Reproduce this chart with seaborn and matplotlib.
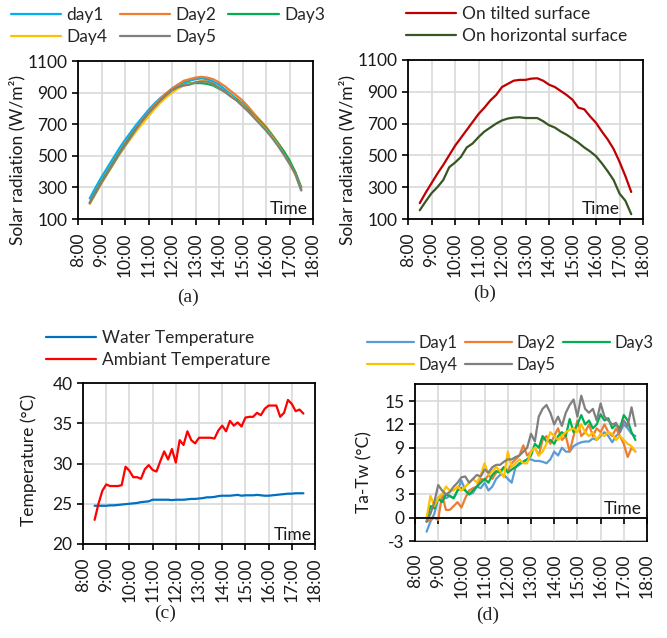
import matplotlib
matplotlib.use("Agg")
import matplotlib.pyplot as plt
import seaborn as sns
import pandas as pd
import numpy as np

sns.set_theme(style="whitegrid")
plt.rcParams["font.family"] = ["Lato", "DejaVu Sans"]

# ---- data -------------------------------------------------------------
# (a), (b): 15 minute readings, 8:30 .. 17:30
time_15 = ["8:30", "8:45", "9:00", "9:15", "9:30", "9:45", "10:00", "10:15", "10:30",
           "10:45", "11:00", "11:15", "11:30", "11:45", "12:00", "12:15", "12:30",
           "12:45", "13:00", "13:15", "13:30", "13:45", "14:00", "14:15", "14:30",
           "14:45", "15:00", "15:15", "15:30", "15:45", "16:00", "16:15", "16:30",
           "16:45", "17:00", "17:15", "17:30"]

rad_day1 = [230, 300, 365, 425, 485, 545, 600, 650, 700, 745, 790, 830, 865, 895, 925, 950,
            965, 975, 985, 990, 985, 970, 950, 920, 890, 860, 830, 790, 750, 715, 675, 630,
            580, 525, 460, 385, 285]
rad_day2 = [205, 275, 340, 400, 460, 520, 580, 630, 680, 730, 775, 820, 860, 895, 925, 950,
            975, 985, 995, 1000, 995, 985, 965, 940, 910, 880, 850, 810, 765, 725, 685, 635,
            585, 530, 470, 395, 295]
rad_day3 = [200, 270, 335, 395, 455, 515, 570, 625, 675, 720, 765, 805, 845, 880, 910, 935,
            950, 960, 960, 960, 955, 945, 925, 905, 880, 855, 825, 790, 750, 715, 675, 630,
            580, 530, 470, 395, 300]
rad_day4 = [195, 260, 325, 385, 445, 505, 560, 610, 660, 705, 750, 795, 835, 870, 900, 925,
            945, 955, 965, 975, 970, 955, 930, 905, 880, 850, 820, 780, 745, 705, 665, 620,
            570, 510, 450, 380, 285]
rad_day5 = [200, 265, 330, 390, 450, 510, 565, 620, 675, 725, 770, 810, 850, 885, 915, 935,
            945, 950, 965, 970, 970, 955, 930, 905, 875, 850, 815, 780, 740, 700, 660, 615,
            565, 510, 450, 385, 280]

rad_tilted = [200, 265, 325, 385, 440, 500, 560, 610, 660, 710, 760, 800, 845, 880, 930, 950,
              970, 975, 975, 983, 985, 970, 945, 930, 905, 880, 850, 800, 790, 745, 705, 650,
              600, 540, 460, 370, 270]
rad_horizontal = [155, 210, 262, 300, 345, 425, 455, 490, 550, 575, 615, 650, 675, 700, 720,
                  732, 738, 740, 735, 735, 735, 715, 690, 675, 650, 630, 605, 580, 550, 525,
                  495, 450, 400, 345, 260, 215, 130]

# (c), (d): 10 minute readings, 8:30 .. 17:30
time_10 = ["8:30", "8:40", "8:50", "9:00", "9:10", "9:20", "9:30", "9:40", "9:50", "10:00",
           "10:10", "10:20", "10:30", "10:40", "10:50", "11:00", "11:10", "11:20", "11:30",
           "11:40", "11:50", "12:00", "12:10", "12:20", "12:30", "12:40", "12:50", "13:00",
           "13:10", "13:20", "13:30", "13:40", "13:50", "14:00", "14:10", "14:20", "14:30",
           "14:40", "14:50", "15:00", "15:10", "15:20", "15:30", "15:40", "15:50", "16:00",
           "16:10", "16:20", "16:30", "16:40", "16:50", "17:00", "17:10", "17:20", "17:30"]

water_temp = [24.75, 24.75, 24.75, 24.75, 24.8, 24.8, 24.85, 24.9, 24.95, 25.0, 25.05, 25.1,
              25.2, 25.25, 25.3, 25.5, 25.5, 25.5, 25.5, 25.5, 25.45, 25.5, 25.5, 25.5, 25.55,
              25.6, 25.6, 25.65, 25.7, 25.8, 25.8, 25.85, 25.95, 26.0, 26.0, 26.0, 26.05, 26.1,
              26.0, 26.05, 26.05, 26.05, 26.1, 26.05, 26.0, 26.0, 26.05, 26.1, 26.15, 26.2,
              26.25, 26.25, 26.3, 26.3, 26.3]
ambient_temp = [23.0, 25.0, 26.6, 27.4, 27.2, 27.2, 27.2, 27.3, 29.6, 29.1, 28.3, 28.3, 28.1,
                29.3, 29.8, 29.2, 29.0, 30.3, 31.5, 30.5, 31.8, 30.1, 32.9, 32.3, 34.0, 32.9,
                32.5, 33.2, 33.2, 33.2, 33.2, 33.1, 34.1, 34.7, 34.0, 35.3, 34.7, 35.1, 34.6,
                35.7, 35.8, 35.8, 36.3, 36.0, 36.8, 37.2, 37.2, 37.2, 35.8, 36.3, 37.9, 37.4,
                36.5, 36.7, 36.2]

dt_day1 = [-1.8, -0.5, 0.5, 2.5, 3.0, 2.5, 2.8, 2.5, 3.5, 4.8, 3.5, 3.0, 3.2, 4.0, 3.8, 4.5,
           3.5, 4.0, 5.0, 5.5, 5.5, 5.0, 4.5, 6.5, 6.8, 7.2, 7.5, 7.5, 7.3, 7.3, 7.2, 7.0, 7.5,
           8.5, 8.0, 9.0, 8.5, 8.5, 9.2, 9.5, 9.7, 9.8, 9.8, 10.2, 10.0, 10.5, 11.0, 10.5, 9.7,
           10.5, 11.0, 12.0, 11.5, 10.8, 10.5]
dt_day2 = [-0.5, -0.3, 0.0, -0.3, 3.0, 1.0, 1.0, 1.5, 2.0, 1.3, 2.5, 3.5, 3.8, 4.0, 5.0, 4.8,
           5.5, 5.0, 5.8, 6.0, 6.5, 6.0, 7.0, 7.5, 8.0, 9.3, 8.0, 8.5, 9.0, 8.0, 10.0, 10.5,
           9.5, 10.5, 11.5, 10.0, 10.5, 8.5, 10.5, 12.5, 10.5, 11.0, 12.0, 10.5, 11.5, 11.0,
           12.0, 11.0, 10.5, 11.5, 10.5, 9.5, 7.8, 9.0, 8.5]
dt_day3 = [-0.5, 1.5, 1.2, 2.5, 2.0, 3.0, 2.8, 2.5, 3.5, 3.8, 3.5, 3.0, 3.5, 4.0, 4.5, 5.0,
           4.5, 5.5, 6.0, 5.8, 6.5, 5.8, 6.2, 6.5, 7.0, 7.2, 7.5, 8.0, 9.5, 9.0, 10.5, 9.8,
           10.0, 9.5, 10.5, 11.0, 10.5, 12.7, 11.0, 12.0, 13.2, 12.0, 12.5, 11.5, 12.0, 13.3,
           12.5, 12.8, 11.5, 12.0, 11.5, 13.2, 12.5, 11.0, 10.0]
dt_day4 = [0.0, 2.8, 1.5, 2.5, 3.0, 4.0, 3.5, 3.5, 4.0, 3.5, 4.0, 4.5, 5.0, 4.5, 5.5, 7.0,
           5.5, 6.0, 6.5, 6.0, 5.2, 8.5, 6.5, 7.0, 7.5, 7.0, 7.0, 8.5, 9.0, 8.0, 8.5, 9.5,
           11.0, 10.5, 10.0, 10.5, 11.0, 11.3, 11.5, 11.0, 12.0, 11.0, 10.5, 11.0, 10.0, 10.8,
           10.5, 11.0, 10.8, 10.0, 10.5, 10.0, 9.5, 9.2, 8.5]
dt_day5 = [-0.5, 0.5, 2.0, 4.2, 3.5, 3.0, 3.3, 4.0, 4.5, 5.2, 5.3, 4.5, 5.0, 5.5, 5.3, 6.2,
           5.8, 6.5, 6.8, 6.8, 7.2, 7.5, 7.5, 7.8, 8.0, 8.5, 9.0, 10.8, 9.8, 13.0, 14.0, 14.5,
           13.5, 12.0, 13.0, 11.8, 13.5, 14.5, 15.2, 13.0, 15.7, 14.0, 13.5, 14.0, 12.5, 14.7,
           13.0, 12.5, 12.0, 12.2, 11.0, 12.5, 11.8, 14.2, 11.8]

hour_ticks = list(range(8, 19))
hour_labels = [f"{h}:00" for h in hour_ticks]


def to_hours(labels):
    out = []
    for s in labels:
        h, m = s.split(":")
        out.append(int(h) + int(m) / 60.0)
    return out


def long_frame(times, series):
    rows = []
    x = to_hours(times)
    for name, vals in series.items():
        for xi, yi in zip(x, vals):
            rows.append({"time": xi, "value": yi, "series": name})
    return pd.DataFrame(rows)


FS = 12.5
LW = 1.6
W, H = 667, 638
fig = plt.figure(figsize=(W / 100, H / 100), dpi=100)


def px_axes(left, top, right, bottom):
    return fig.add_axes([left / W, 1 - bottom / H, (right - left) / W, (bottom - top) / H])


def style_axes(ax, ylim, yticks, ylabel, ylab_pos):
    ax.set_xlim(8, 18)
    ax.set_ylim(*ylim)
    ax.set_xticks(hour_ticks)
    ax.set_xticklabels(hour_labels, rotation=90)
    ax.set_yticks(yticks)
    ax.set_yticklabels([str(t) for t in yticks])
    ax.set_facecolor("white")
    ax.grid(True, color="#d9d9d9", linewidth=1.2)
    for sp in ax.spines.values():
        sp.set_color("black")
        sp.set_linewidth(1.3)
        sp.set_visible(True)
    ax.tick_params(axis="both", which="major", direction="out", length=4.5, width=1.2,
                   color="black", labelsize=FS, labelcolor="#1a1a1a", pad=3,
                   bottom=True, left=True)
    ax.tick_params(axis="x", pad=5)
    ax.set_xlabel("")
    ax.set_ylabel(ylabel, fontsize=FS, color="#1a1a1a")
    ax.yaxis.set_label_coords(*ylab_pos)


def add_legend(ax, anchor, ncol, colspacing=1.0, handlelength=2.9, fontsize=FS):
    handles, labels = ax.get_legend_handles_labels()
    # matplotlib fills legend columns first; reorder so entries run across rows
    n = len(handles)
    nrow = -(-n // ncol)
    order = []
    for c in range(ncol):
        for r in range(nrow):
            i = r * ncol + c
            if i < n:
                order.append(i)
    handles = [handles[i] for i in order]
    labels = [labels[i] for i in order]
    ax.legend(handles, labels, loc="upper left", bbox_to_anchor=(anchor[0] / W, 1 - anchor[1] / H),
              bbox_transform=fig.transFigure, ncol=ncol, frameon=False, fontsize=fontsize,
              handlelength=handlelength, handletextpad=0.3, columnspacing=colspacing,
              labelspacing=0.36, borderpad=0, borderaxespad=0)


def time_text(ax, x_px, y_px):
    fig.text(x_px / W, 1 - y_px / H, "Time", ha="right", va="baseline", fontsize=FS,
             color="#1a1a1a")


# ---- (a) ---------------------------------------------------------------
ax_a = px_axes(78, 61, 313, 219)
df_a = long_frame(time_15, {"day1": rad_day1, "Day2": rad_day2, "Day3": rad_day3,
                            "Day4": rad_day4, "Day5": rad_day5})
sns.lineplot(data=df_a, x="time", y="value", hue="series", ax=ax_a, linewidth=LW,
             palette=["#00b0f0", "#ed7d31", "#00b050", "#ffc000", "#7f7f7f"])
style_axes(ax_a, (100, 1100), [100, 300, 500, 700, 900, 1100],
           "Solar radiation (W/m²)", (-0.225, 0.373))
add_legend(ax_a, (11, 7), 3, colspacing=0.7)
time_text(ax_a, 308, 214)
fig.text(188 / W, 1 - 297 / H, "(a)", ha="center", va="center", fontsize=14,
         family="Liberation Serif")

# ---- (b) ---------------------------------------------------------------
ax_b = px_axes(408, 60, 643, 219)
df_b = long_frame(time_15, {"On tilted surface": rad_tilted,
                            "On horizontal surface": rad_horizontal})
sns.lineplot(data=df_b, x="time", y="value", hue="series", ax=ax_b, linewidth=LW,
             palette=["#c00000", "#375623"])
style_axes(ax_b, (100, 1100), [100, 300, 500, 700, 900, 1100],
           "Solar radiation (W/m²)", (-0.225, 0.373))
add_legend(ax_b, (406, 6), 1)
time_text(ax_b, 620, 214)
fig.text(485 / W, 1 - 293 / H, "(b)", ha="center", va="center", fontsize=14,
         family="Liberation Serif")

# ---- (c) ---------------------------------------------------------------
ax_c = px_axes(83, 383, 315, 544)
df_c = long_frame(time_10, {"Water Temperature": water_temp,
                            "Ambiant Temperature": ambient_temp})
sns.lineplot(data=df_c, x="time", y="value", hue="series", ax=ax_c, linewidth=LW,
             palette=["#0070c0", "#ff0000"])
style_axes(ax_c, (20, 40), [20, 25, 30, 35, 40], "Temperature (°C)", (-0.198, 0.52))
add_legend(ax_c, (46, 330), 1)
time_text(ax_c, 312, 540)
fig.text(165 / W, 1 - 613 / H, "(c)", ha="center", va="center", fontsize=14,
         family="Liberation Serif")

# ---- (d) ---------------------------------------------------------------
ax_d = px_axes(415, 384, 647, 541)
df_d = long_frame(time_10, {"Day1": dt_day1, "Day2": dt_day2, "Day3": dt_day3,
                            "Day4": dt_day4, "Day5": dt_day5})
sns.lineplot(data=df_d, x="time", y="value", hue="series", ax=ax_d, linewidth=LW,
             palette=["#5b9bd5", "#ed7d31", "#00b050", "#ffc000", "#7f7f7f"])
style_axes(ax_d, (-3, 17.2), [-3, 0, 3, 6, 9, 12, 15], "Ta-Tw (°C)", (-0.185, 0.44))
# horizontal axis crosses at 0, labels stay at the bottom
ax_d.spines["bottom"].set_position(("data", 0))
ax_d.tick_params(axis="x", labelbottom=False)
sec = ax_d.secondary_xaxis("bottom")
sec.set_xticks(hour_ticks)
sec.set_xticklabels(hour_labels, rotation=90)
sec.tick_params(length=0, labelsize=FS, labelcolor="#1a1a1a", pad=9)
sec.spines["bottom"].set_color("black")
sec.spines["bottom"].set_linewidth(1.3)
add_legend(ax_d, (367, 335), 3, colspacing=0.45, handlelength=2.8, fontsize=12)
time_text(ax_d, 642, 514)
fig.text(488 / W, 1 - 615 / H, "(d)", ha="center", va="center", fontsize=14,
         family="Liberation Serif")

fig.savefig("out.png", dpi=100, facecolor="white")
